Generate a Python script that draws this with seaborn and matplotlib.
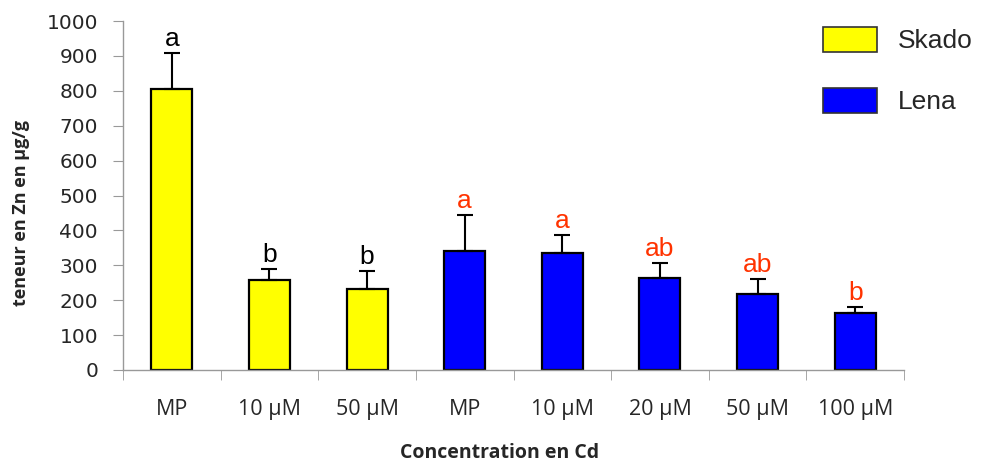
import numpy as np
import pandas as pd
import seaborn as sns
import matplotlib.pyplot as plt
from matplotlib.patches import Patch

# data
labels = ["MP", "10 µM", "50 µM", "MP", "10 µM", "20 µM", "50 µM", "100 µM"]
variety = ["Skado"] * 3 + ["Lena"] * 5
zn = [805, 259, 231, 341, 335, 265, 219, 163]
err = [102, 29, 52, 102, 51, 41, 41, 17]
letters = ["a", "b", "b", "a", "a", "ab", "ab", "b"]

palette = {"Skado": "#FFFF00", "Lena": "#0000FF"}
letter_col = {"Skado": "black", "Lena": "#FF3300"}

df = pd.DataFrame({"key": [f"{v}_{l}" for v, l in zip(variety, labels)],
                   "label": labels, "variety": variety, "zn": zn, "err": err})

sns.set_style("white")
plt.rcParams["font.family"] = ["Liberation Sans", "DejaVu Sans"]

fig = plt.figure(figsize=(9.82, 4.63), dpi=100)
ax = fig.add_axes([0.1253, 0.2009, 0.7953, 0.7537])

sns.barplot(data=df, x="key", y="zn", hue="variety", palette=palette, dodge=False,
            saturation=1, width=0.42, edgecolor="black", linewidth=1.6, legend=False, ax=ax)

bars = [p for p in ax.patches if p.get_height() > 0]
bars = sorted(bars, key=lambda p: p.get_x())
for bar, e, letter, v in zip(bars, df["err"], letters, df["variety"]):
    cx = bar.get_x() + bar.get_width() / 2
    top = bar.get_height()
    ax.errorbar(cx, top, yerr=[[0], [e]], fmt="none", ecolor="black",
                elinewidth=1.5, capsize=6, capthick=1.5, zorder=3)
    ax.text(cx, top + e + 6, letter, ha="center", va="bottom", fontsize=19,
            color=letter_col[v])

ax.set_xlim(-0.5, len(labels) - 0.5)
ax.set_ylim(0, 1000)
ax.set_yticks(np.arange(0, 1001, 100))
ax.tick_params(axis="y", labelsize=14.5, length=7, color="#999999", direction="out",
               left=True, pad=11)
ax.set_yticklabels([str(v) for v in range(0, 1001, 100)], family="DejaVu Sans")

ax.set_xticks(np.arange(len(labels)))
ax.set_xticklabels(labels, family="Open Sans", fontsize=15.5)
ax.set_xticks(np.arange(len(labels) + 1) - 0.5, minor=True)
ax.tick_params(axis="x", which="major", length=0, pad=21)
ax.tick_params(axis="x", which="minor", length=7, color="#999999", direction="out", bottom=True)

for s in ["top", "right"]:
    ax.spines[s].set_visible(False)
for s in ["left", "bottom"]:
    ax.spines[s].set_color("#999999")
    ax.spines[s].set_linewidth(1)

ax.set_xlabel("Concentration en Cd", fontsize=14, fontweight="bold", family="Open Sans")
ax.xaxis.set_label_coords(0.482, -0.21)
ax.set_ylabel("teneur en Zn en µg/g", fontsize=13, fontweight="bold", family="Open Sans")
ax.yaxis.set_label_coords(-0.119, 0.45)

handles = [Patch(facecolor=palette[k], edgecolor="#333333", linewidth=1.2, label=k)
           for k in ["Skado", "Lena"]]
fig.legend(handles=handles, loc="upper left", bbox_to_anchor=(0.838, 0.942), frameon=False,
           borderpad=0, borderaxespad=0, fontsize=19, handlelength=2.05, handleheight=1.1,
           labelspacing=1.3, handletextpad=0.8)

fig.savefig("out.png", dpi=100)
